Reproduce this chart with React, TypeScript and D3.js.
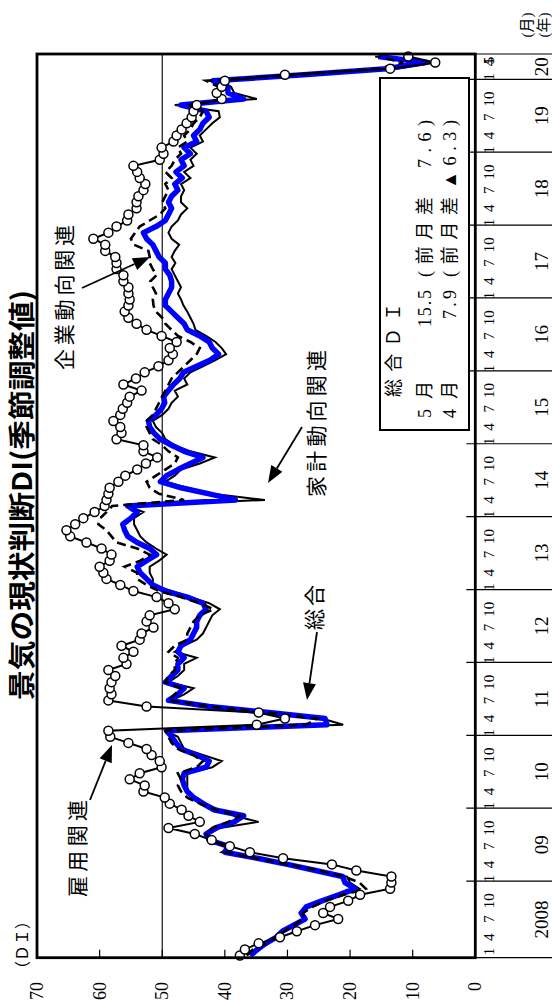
import React from 'react';
import * as d3 from 'd3';

const W = 552;
const H = 1003;

const years = ['2008', '09', '10', '11', '12', '13', '14', '15', '16', '17', '18', '19', '20'];
const monthLabels = ['1', '4', '7', '10'];
const valueTicks = [0, 10, 20, 30, 40, 50, 60, 70];

// 総合 (Jan 2008 - May 2020)
const sogo = [
  36.0, 34.8, 33.5, 31.8, 30.8, 29.0, 27.2, 27.8, 27.0, 24.5, 21.8, 19.2,
  20.8, 21.2, 25.5, 30.0, 34.8, 40.0, 39.5, 42.5, 43.0, 41.5, 38.5, 37.0,
  41.8, 43.5, 45.0, 46.0, 46.5, 46.8, 46.5, 43.0, 42.5, 44.5, 47.0, 47.8,
  48.5, 49.3, 23.7, 24.0, 33.0, 42.5, 49.0, 47.5, 46.5, 49.5, 48.5, 47.5,
  47.5, 46.5, 47.5, 47.0, 45.5, 45.0, 44.5, 44.5, 44.0, 43.0, 43.5, 46.0,
  49.5, 51.5, 52.5, 53.5, 54.0, 52.5, 50.9, 52.0, 54.0, 55.5, 56.0, 56.3,
  55.0, 54.0, 55.5, 38.3, 42.5, 47.0, 50.3, 49.3, 47.5, 45.5, 43.5, 46.5,
  48.5, 50.3, 51.3, 52.0, 52.2, 51.0, 50.1, 49.6, 49.8, 49.0, 48.2, 47.2,
  46.6, 44.5, 42.4, 41.0, 42.0, 42.5, 44.0, 46.0, 46.5, 47.5, 48.5, 49.5,
  49.5, 49.0, 48.5, 48.5, 48.8, 49.5, 49.5, 50.5, 51.0, 51.5, 52.5, 53.0,
  51.0, 49.5, 49.0, 48.5, 49.0, 48.5, 47.5, 48.0, 46.8, 47.8, 46.5, 47.0,
  45.5, 46.5, 44.5, 45.0, 44.0, 43.5, 42.5, 43.0, 47.0, 37.0, 39.5, 39.5,
  41.9, 27.4, 14.2, 7.9, 15.5,
];

// 家計動向関連
const kakei = [
  35.5, 34.5, 33.0, 31.5, 30.5, 28.5, 27.0, 28.0, 26.5, 24.0, 21.0, 18.5,
  20.0, 20.5, 25.0, 30.5, 35.0, 40.5, 39.0, 42.0, 42.5, 40.8, 34.6, 38.5,
  41.0, 43.0, 44.5, 46.0, 46.0, 46.0, 46.0, 42.0, 40.5, 43.5, 46.5, 47.0,
  47.5, 49.5, 21.1, 24.5, 33.0, 44.0, 48.5, 46.5, 45.0, 49.0, 47.5, 46.5,
  46.5, 44.5, 48.0, 46.5, 44.5, 43.5, 43.0, 42.5, 42.0, 40.8, 42.5, 45.5,
  48.5, 51.5, 51.5, 52.0, 52.0, 50.5, 49.3, 51.0, 52.5, 53.5, 54.0, 54.5,
  54.5, 53.0, 55.5, 33.6, 42.0, 46.0, 49.5, 48.0, 47.0, 44.0, 41.6, 45.5,
  48.0, 49.5, 50.0, 51.0, 51.5, 50.0, 49.0, 48.5, 47.5, 48.0, 46.0, 46.5,
  45.5, 43.5, 41.5, 39.8, 40.5, 41.5, 43.0, 44.7, 45.0, 45.5, 46.0, 46.6,
  47.0, 47.5, 47.0, 47.5, 48.0, 48.5, 47.9, 48.5, 48.0, 47.3, 48.5, 49.0,
  48.5, 47.5, 47.0, 46.0, 47.0, 47.0, 46.5, 47.0, 45.5, 46.5, 45.0, 45.5,
  44.5, 45.5, 43.5, 44.0, 43.0, 42.0, 40.8, 41.0, 48.0, 34.9, 38.5, 39.0,
  41.0, 26.0, 12.5, 6.5, 16.0,
];

// 企業動向関連
const kigyo = [
  36.5, 35.5, 33.5, 32.0, 30.5, 29.0, 27.5, 27.5, 26.0, 24.0, 21.0, 17.5,
  18.5, 21.0, 25.0, 30.0, 35.0, 40.0, 40.0, 42.0, 43.0, 42.0, 39.5, 37.5,
  41.5, 44.0, 46.0, 47.0, 47.5, 47.0, 47.5, 44.5, 43.5, 45.0, 47.5, 48.5,
  49.0, 49.5, 27.0, 25.3, 33.5, 42.5, 49.0, 48.0, 47.0, 49.5, 49.0, 48.0,
  48.0, 47.5, 49.0, 48.0, 46.0, 46.0, 45.5, 45.0, 44.0, 41.8, 44.0, 47.0,
  50.5, 52.5, 54.0, 54.0, 56.0, 53.5, 52.0, 54.0, 57.3, 58.1, 58.9, 60.2,
  59.9, 58.9, 58.0, 46.5, 50.5, 52.0, 52.5, 51.0, 49.5, 48.0, 47.5, 49.0,
  50.0, 51.5, 52.0, 52.5, 52.5, 51.5, 51.0, 50.5, 50.0, 49.5, 49.0, 48.5,
  47.5, 46.5, 45.5, 44.5, 44.0, 45.5, 47.5, 48.5, 49.5, 50.0, 51.0, 51.4,
  51.5, 51.0, 51.5, 51.9, 50.9, 51.5, 52.0, 52.0, 52.2, 54.5, 55.0, 54.3,
  53.6, 52.0, 50.4, 49.5, 50.0, 49.5, 49.0, 49.5, 48.5, 49.5, 48.5, 48.0,
  47.0, 47.5, 46.0, 46.5, 45.5, 45.0, 44.0, 43.5, 45.5, 40.0, 41.5, 41.0,
  43.0, 28.5, 15.5, 11.5, 15.5,
];

// 雇用関連
const koyo = [
  37.6, 36.8, 34.6, 31.2, 28.5, 25.6, 21.9, 24.3, 23.2, 20.3, 18.4, 13.6,
  13.4, 13.4, 19.0, 22.9, 30.7, 36.0, 39.2, 42.1, 44.8, 49.0, 44.0, 45.8,
  46.9, 48.8, 49.6, 53.0, 52.8, 55.2, 53.6, 50.1, 50.4, 51.7, 52.5, 55.4,
  58.3, 58.6, 34.9, 30.4, 34.6, 52.5, 58.6, 58.1, 58.4, 58.1, 57.5, 58.6,
  55.7, 56.2, 54.6, 56.5, 53.6, 53.3, 51.4, 52.5, 52.0, 48.0, 49.0, 50.9,
  54.6, 56.7, 58.9, 59.4, 60.0, 58.4, 58.1, 59.7, 62.1, 64.7, 65.3, 63.9,
  62.6, 60.8, 59.2, 58.9, 58.6, 58.4, 57.0, 55.9, 54.0, 52.6, 50.8, 53.0,
  53.0, 57.3, 56.5, 56.7, 57.8, 56.7, 56.3, 55.6, 55.2, 53.3, 56.2, 54.2,
  52.8, 50.6, 49.0, 48.3, 48.8, 47.7, 50.1, 52.5, 54.1, 55.4, 56.0, 55.4,
  55.2, 55.4, 55.4, 56.2, 56.2, 57.3, 57.3, 57.5, 59.1, 59.1, 61.0, 58.6,
  57.3, 55.6, 55.4, 54.1, 54.1, 53.8, 53.0, 52.7, 53.6, 54.0, 54.6, 50.4,
  49.8, 50.1, 48.2, 47.7, 46.9, 46.1, 45.3, 45.0, 44.5, 40.5, 41.3, 40.5,
  40.0, 30.4, 13.6, 6.4, 10.7,
];

const SERIF = "'Liberation Serif','DejaVu Serif','Noto Sans CJK JP',serif";
const CJK = "'Noto Sans CJK JP','Liberation Serif',sans-serif";

function Arrow({ x1, y1, x2, y2 }: { x1: number; y1: number; x2: number; y2: number }) {
  const a = Math.atan2(y2 - y1, x2 - x1);
  const L = 17;
  const hw = 6.5;
  const bx = x2 - L * Math.cos(a);
  const by = y2 - L * Math.sin(a);
  const p1 = [bx + hw * Math.sin(a), by - hw * Math.cos(a)];
  const p2 = [bx - hw * Math.sin(a), by + hw * Math.cos(a)];
  return (
    <g>
      <line x1={x1} y1={y1} x2={bx} y2={by} stroke="#000" strokeWidth={1.8} />
      <polygon points={`${x2},${y2} ${p1[0]},${p1[1]} ${p2[0]},${p2[1]}`} fill="#000" />
    </g>
  );
}

export default function App() {
  // Chart is drawn in an unrotated frame, then rotated -90deg.
  const X0 = 45.3;
  const X1 = 949;
  const Y0 = 37;
  const Y1 = 475.3;
  const x = d3.scaleLinear().domain([0, 148]).range([47.5, 946.5]);
  const y = d3.scaleLinear().domain([0, 70]).range([Y1, Y0]);
  const line = d3.line<number>().x((d, i) => x(i)).y((d) => y(d));

  const bounds: number[] = [X0];
  for (let k = 1; k < years.length; k++) bounds.push(x(12 * k) + 1.5);
  bounds.push(X1);

  const monthItems: { label: string; X: number }[] = [];
  years.forEach((_, k) => {
    monthLabels.forEach((m) => {
      const i = 12 * k + Number(m) - 1;
      if (i <= 148) monthItems.push({ label: m, X: x(i) + (m === '1' ? 4 : 0) });
    });
  });
  monthItems.push({ label: '5', X: x(148) - 4 });

  const lt = 18;

  return (
    <svg
      width={W}
      height={H}
      style={{ position: 'absolute', left: 0, top: 0, background: '#fff' }}
    >
      <rect x={0} y={0} width={W} height={H} fill="#fff" />
      <g transform={`translate(0,${H}) rotate(-90)`}>
        {/* title */}
        <text
          x={303}
          y={20}
          dominantBaseline="central"
          fontFamily={CJK}
          fontWeight={700}
          fontSize={27}
          textLength={410}
          lengthAdjust="spacingAndGlyphs"
        >
          景気の現状判断DI(季節調整値)
        </text>

        {/* (DI) */}
        <text x={58} y={22} textAnchor="middle" dominantBaseline="central" fontFamily={SERIF} fontSize={16}>
          （ＤＩ）
        </text>

        {/* value labels */}
        {valueTicks.map((v) => (
          <text
            key={v}
            x={21}
            y={y(v)}
            textAnchor="end"
            dominantBaseline="central"
            fontFamily={SERIF}
            fontSize={18}
          >
            {v}
          </text>
        ))}

        {/* value ticks (inside) */}
        {valueTicks.slice(1, -1).map((v) => (
          <line key={v} x1={X0} x2={X0 + 8} y1={y(v)} y2={y(v)} stroke="#000" strokeWidth={1.2} />
        ))}

        {/* 50 reference line */}
        <line x1={X0} x2={X1} y1={y(50)} y2={y(50)} stroke="#000" strokeWidth={1.1} />

        {/* right panel separators */}
        {bounds.map((b, k) => (
          <line
            key={k}
            x1={b}
            x2={b}
            y1={k === 0 || k === bounds.length - 1 ? Y1 : Y1 - 9}
            y2={W}
            stroke="#000"
            strokeWidth={1.2}
          />
        ))}

        {/* month labels */}
        {monthItems.map((m, k) => (
          <text
            key={k}
            x={m.X}
            y={488.5}
            textAnchor="middle"
            dominantBaseline="central"
            fontFamily={SERIF}
            fontSize={15}
          >
            {m.label}
          </text>
        ))}

        {/* year labels */}
        {years.map((yr, k) => (
          <text
            key={yr}
            x={(bounds[k] + bounds[k + 1]) / 2}
            y={541}
            textAnchor="middle"
            dominantBaseline="central"
            fontFamily={SERIF}
            fontSize={19}
          >
            {yr}
          </text>
        ))}
        <text x={978} y={527} textAnchor="middle" dominantBaseline="central" fontFamily={SERIF} fontSize={15}>
          (月)
        </text>
        <text x={978} y={544} textAnchor="middle" dominantBaseline="central" fontFamily={SERIF} fontSize={15}>
          (年)
        </text>

        {/* series */}
        <path d={line(kakei) || ''} fill="none" stroke="#000" strokeWidth={2} strokeLinejoin="miter" />
        <path d={line(sogo) || ''} fill="none" stroke="#0000ff" strokeWidth={5.5} strokeLinejoin="round" />
        <path d={line(kigyo) || ''} fill="none" stroke="#000" strokeWidth={2.6} strokeDasharray="9,5" />
        <path d={line(koyo) || ''} fill="none" stroke="#000" strokeWidth={2} />
        {koyo.map((v, i) => (
          <circle key={i} cx={x(i)} cy={y(v)} r={4.5} fill="#fff" stroke="#000" strokeWidth={1.5} />
        ))}

        {/* plot frame */}
        <rect x={X0} y={Y0} width={X1 - X0} height={Y1 - Y0} fill="none" stroke="#000" strokeWidth={2.8} />

        {/* annotations */}
        <text x={633} y={63} dominantBaseline="central" fontFamily={CJK} fontSize={21} textLength={145} lengthAdjust="spacing">
          企業動向関連
        </text>
        <Arrow x1={715} y1={82} x2={746} y2={150} />

        <text x={506} y={315} dominantBaseline="central" fontFamily={CJK} fontSize={21} textLength={147} lengthAdjust="spacing">
          家計動向関連
        </text>
        <Arrow x1={576} y1={302} x2={520} y2={268} />

        <text x={373} y={313} dominantBaseline="central" fontFamily={CJK} fontSize={21} textLength={45} lengthAdjust="spacing">
          総合
        </text>
        <Arrow x1={371} y1={317} x2={303} y2={307} />

        <text x={106} y={76} dominantBaseline="central" fontFamily={CJK} fontSize={21} textLength={97} lengthAdjust="spacing">
          雇用関連
        </text>
        <Arrow x1={203} y1={90} x2={258} y2={112} />

        {/* legend box */}
        <rect x={573} y={380} width={352} height={89} fill="#fff" stroke="#000" strokeWidth={2} />
        <text x={606} y={394} dominantBaseline="central" fontFamily={SERIF} fontSize={lt} textLength={94} lengthAdjust="spacing">
          総合ＤＩ
        </text>
        <text x={585} y={424.5} dominantBaseline="central" fontFamily={SERIF} fontSize={lt} textLength={37} lengthAdjust="spacing">
          5月
        </text>
        <text x={676} y={424.5} dominantBaseline="central" fontFamily={SERIF} fontSize={lt} textLength={37} lengthAdjust="spacing">
          15.5
        </text>
        <text x={726} y={424.5} dominantBaseline="central" fontFamily={SERIF} fontSize={lt} textLength={80} lengthAdjust="spacing">
          (前月差
        </text>
        <text x={835} y={424.5} dominantBaseline="central" fontFamily={SERIF} fontSize={lt} textLength={48} lengthAdjust="spacing">
          7.6)
        </text>
        <text x={585} y={449.5} dominantBaseline="central" fontFamily={SERIF} fontSize={lt} textLength={37} lengthAdjust="spacing">
          4月
        </text>
        <text x={684} y={449.5} dominantBaseline="central" fontFamily={SERIF} fontSize={lt} textLength={29} lengthAdjust="spacing">
          7.9
        </text>
        <text x={726} y={449.5} dominantBaseline="central" fontFamily={SERIF} fontSize={lt} textLength={80} lengthAdjust="spacing">
          (前月差
        </text>
        <text x={814} y={449.5} dominantBaseline="central" fontFamily={SERIF} fontSize={lt} textLength={69} lengthAdjust="spacing">
          ▲6.3)
        </text>
      </g>
    </svg>
  );
}
